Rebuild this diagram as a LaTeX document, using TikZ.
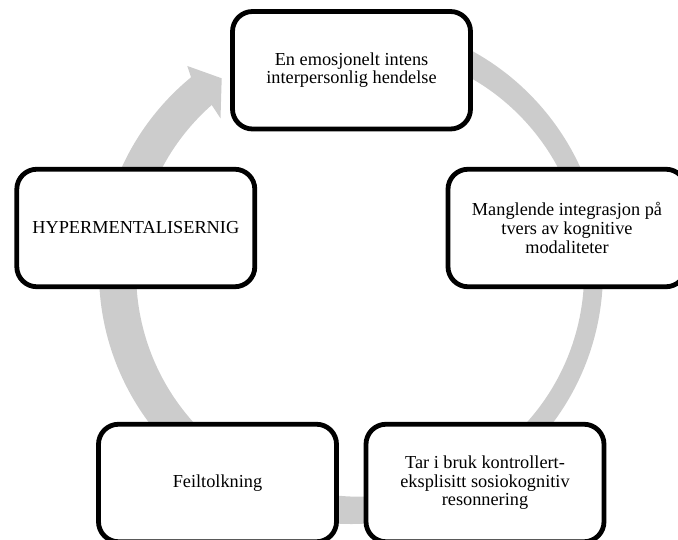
\documentclass[tikz,border=0pt]{standalone}
\usepackage{fontspec}
\setmainfont{Liberation Serif}
\begin{document}
\begin{tikzpicture}[x=1pt,y=1pt,
  cyclebox/.style={draw=black, line width=4.8pt, fill=white, rounded corners=20pt,
    minimum width=238pt, minimum height=117.5pt, align=center, inner sep=0pt,
    font=\fontsize{18.3}{18.6}\selectfont}]
\useasboundingbox (0,0) rectangle (678,540);
\clip (0,0) rectangle (678,540);
\definecolor{ringgray}{RGB}{204,204,204}
\coordinate (c) at (351,268);
% circular arrow
\fill[ringgray] (351,268) ++(85:252pt) arc[start angle=85, end angle=-230.6, radius=252pt]
  -- (187.3,474) -- (221.7,461.7) -- (220.5,421.7) -- (211.7,435)
  arc[start angle=-228.5, end angle=85, radius=224pt] -- cycle;
% boxes
\node[cyclebox] (top) at (351.5,469.75) {En emosjonelt intens\\interpersonlig hendelse};
\node[cyclebox] (right) at (567,312) {Manglende integrasjon på\\tvers av kognitive\\modaliteter};
\node[cyclebox] (bright) at (485,57) {Tar i bruk kontrollert-\\eksplisitt sosiokognitiv\\resonnering};
\node[cyclebox] (bleft) at (217.5,57) {Feiltolkning};
\node[cyclebox] (left) at (135.8,312) {HYPERMENTALISERNIG};
\end{tikzpicture}
\end{document}
